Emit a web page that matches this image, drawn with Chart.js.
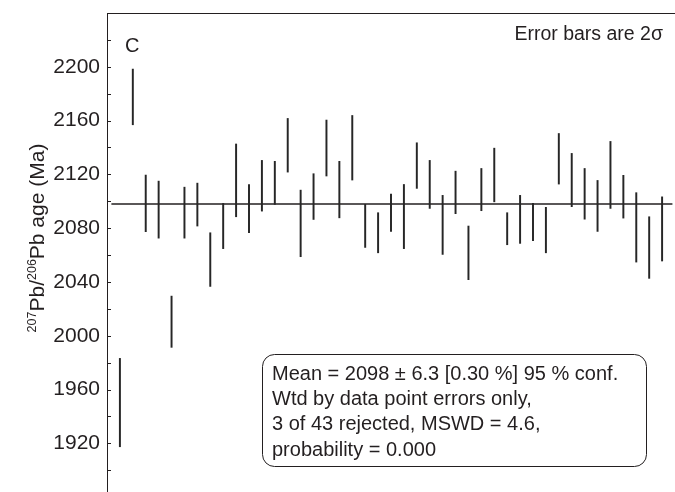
<!DOCTYPE html>
<html><head><meta charset="utf-8">
<script src="https://cdn.jsdelivr.net/npm/chart.js@4.4.0/dist/chart.umd.min.js"></script>
<style>
html,body{margin:0;padding:0;background:#fff;overflow:hidden;}
#wrap{position:relative;width:675px;height:520px;}
</style></head><body>
<div id="wrap"><canvas id="c"></canvas></div>
<script>
// Spot number (analysis index)
const spotIndex = [1,2,3,4,5,6,7,8,9,10,11,12,13,14,15,16,17,18,19,20,21,22,23,24,25,26,27,28,29,30,31,32,33,34,35,36,37,38,39,40,41,42,43];
// Lower end of 2-sigma error bar (Ma)
const ageLower = [1917.5,2156.9,2077.4,2072.6,1991.4,2072.6,2081.6,2036.7,2064.8,2088.5,
  2076.6,2092.7,2097.7,2121.7,2058.8,2086.5,2118.8,2087.7,2115.8,2065.7,
  2061.7,2077.6,2064.8,2109.6,2094.7,2060.5,2090.8,2041.7,2093.0,2099.6,
  2067.7,2068.7,2070.7,2061.7,2112.8,2096.0,2086.7,2077.6,2094.7,2087.5,
  2054.8,2042.7,2055.6];
// Upper end of 2-sigma error bar (Ma)
const ageUpper = [1983.2,2198.3,2119.5,2115.0,2029.5,2110.5,2113.5,2076.6,2098.4,2142.6,
  2112.5,2130.4,2129.7,2161.6,2108.3,2120.5,2160.4,2129.7,2163.8,2097.7,
  2091.5,2105.4,2112.5,2143.5,2130.4,2104.4,2122.4,2081.6,2124.4,2139.5,
  2091.5,2104.4,2098.4,2095.5,2150.4,2135.6,2124.4,2115.5,2144.5,2119.3,
  2106.4,2088.5,2103.3];
const meanAge = 2098;
const yTickLabels = [1920,1960,2000,2040,2080,2120,2160,2200];
const boxLines = [
  "Mean = 2098 \u00b1 6.3 [0.30 %] 95 % conf.",
  "Wtd by data point errors only,",
  "3 of 43 rejected, MSWD = 4.6,",
  "probability = 0.000"
];
const panelLabel = "C";
const noteText = "Error bars are 2\u03c3";

const FONT = "'Liberation Sans', Arial, sans-serif";
const INK = '#231f20';

const decor = {
  id: 'decor',
  afterDraw(chart) {
    const ctx = chart.ctx;
    const a = chart.chartArea;
    const y = chart.scales.y;
    ctx.save();
    ctx.strokeStyle = INK;
    ctx.lineWidth = 1;
    // top frame
    ctx.beginPath();
    ctx.moveTo(a.left, a.top + 0.5);
    ctx.lineTo(a.right, a.top + 0.5);
    ctx.stroke();
    // inward ticks
    y.ticks.forEach(t => {
      const v = Math.round(t.value);
      if (v % 20 !== 0 || v <= y.min || v >= y.max) return;
      const py = Math.round(y.getPixelForValue(v)) + 0.5;
      ctx.beginPath();
      ctx.moveTo(a.left, py);
      ctx.lineTo(a.left + 4, py);
      ctx.stroke();
    });
    // texts
    ctx.fillStyle = INK;
    ctx.textBaseline = 'alphabetic';
    ctx.font = "20px " + FONT;
    ctx.textAlign = 'left';
    ctx.fillText(panelLabel, 125, 52);
    ctx.font = "19.5px " + FONT;
    ctx.textAlign = 'right';
    ctx.fillText(noteText, 663, 40);
    // info box
    const bx = 262.5, by = 354.5, bw = 384, bh = 112, r = 12;
    ctx.beginPath();
    ctx.moveTo(bx + r, by);
    ctx.lineTo(bx + bw - r, by);
    ctx.arcTo(bx + bw, by, bx + bw, by + r, r);
    ctx.lineTo(bx + bw, by + bh - r);
    ctx.arcTo(bx + bw, by + bh, bx + bw - r, by + bh, r);
    ctx.lineTo(bx + r, by + bh);
    ctx.arcTo(bx, by + bh, bx, by + bh - r, r);
    ctx.lineTo(bx, by + r);
    ctx.arcTo(bx, by, bx + r, by, r);
    ctx.closePath();
    ctx.fillStyle = '#fff';
    ctx.fill();
    ctx.stroke();
    ctx.fillStyle = INK;
    ctx.font = "20px " + FONT;
    ctx.textAlign = 'left';
    boxLines.forEach((s, i) => ctx.fillText(s, 272, 379.5 + i * 25.4));
    // y title with superscripts
    const parts = [["207", 12.5, true], ["Pb/", 21, false], ["206", 12.5, true], ["Pb age (Ma)", 21, false]];
    let W = 0;
    parts.forEach(p => { ctx.font = p[1] + "px " + FONT; p.push(ctx.measureText(p[0]).width); W += p[3]; });
    ctx.translate(44, 238);
    ctx.rotate(-Math.PI / 2);
    let x = -W / 2;
    parts.forEach(p => {
      ctx.font = p[1] + "px " + FONT;
      ctx.fillText(p[0], x, p[2] ? -8.5 : 0);
      x += p[3];
    });
    ctx.restore();
  }
};

new Chart(document.getElementById('c'), {
  data: {
    datasets: [
      {
        type: 'bar',
        data: spotIndex.map((s, i) => ({ x: s, y: [ageLower[i], ageUpper[i]] })),
        backgroundColor: '#262626',
        borderWidth: 0,
        barThickness: 1.3,
        grouped: false
      },
      {
        type: 'line',
        data: [{ x: 0.34, y: meanAge }, { x: 43.8, y: meanAge }],
        borderColor: INK,
        borderWidth: 1.3,
        pointRadius: 0,
        fill: false
      }
    ]
  },
  options: {
    responsive: true,
    maintainAspectRatio: false,
    animation: false,
    layout: { padding: { left: 0, right: 0, top: 13, bottom: 20 } },
    plugins: { legend: { display: false }, tooltip: { enabled: false } },
    scales: {
      x: { type: 'linear', min: 0, max: 44, display: false, offset: false },
      y: {
        type: 'linear', position: 'left', min: 1877.9, max: 2240,
        afterFit: s => { s.width = 107; },
        ticks: {
          stepSize: 20, padding: 7, autoSkip: false, color: INK,
          font: { family: FONT, size: 21, lineHeight: 0.5 },
          callback: v => yTickLabels.includes(Math.round(v)) ? String(Math.round(v)) : ''
        },
        grid: { display: true, drawOnChartArea: false, drawTicks: false },
        border: { display: true, color: INK, width: 1 }
      }
    }
  },
  plugins: [decor]
});
</script>
</body></html>
